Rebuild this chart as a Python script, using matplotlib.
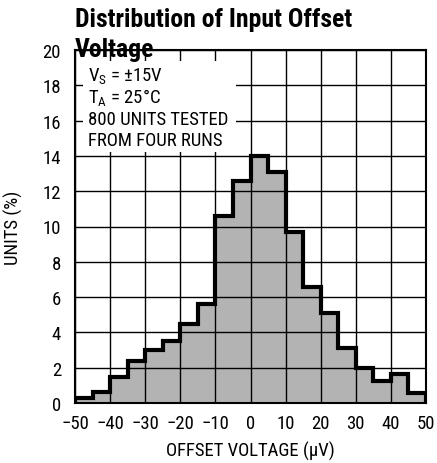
# Distribution of input offset voltage - histogram
import numpy as np
import matplotlib.pyplot as plt
from matplotlib.patches import Rectangle

# data
bin_edges = np.arange(-50, 55, 5)
units_pct = [0.3, 0.6, 1.5, 2.4, 3.0, 3.5, 4.5, 5.6, 10.6, 12.6,
             14.0, 13.1, 9.7, 6.6, 5.1, 3.1, 2.0, 1.25, 1.65, 0.55]
x_ticks = [-50, -40, -30, -20, -10, 0, 10, 20, 30, 40, 50]
x_ticklabels = ['\u221250', '\u221240', '\u221230', '\u221220', '\u221210',
                '0', '10', '20', '30', '40', '50']
y_ticks = [0, 2, 4, 6, 8, 10, 12, 14, 16, 18, 20]
notes = ['V$_\\mathregular{S}$ = \u00b115V', 'T$_\\mathregular{A}$ = 25\u00b0C',
         '800 UNITS TESTED', 'FROM FOUR RUNS']

plt.rcParams['font.family'] = ['Roboto Condensed', 'DejaVu Sans']
plt.rcParams['mathtext.fontset'] = 'custom'
plt.rcParams['mathtext.rm'] = 'Roboto Condensed'

fig = plt.figure(figsize=(4.37, 4.64), dpi=100)
ax = fig.add_axes([75/437, 1-404/464, 351/437, 353/464])

# histogram fill + outline, grid in between
ax.stairs(units_pct, bin_edges, fill=True, color='#b3b3b3', zorder=1)
ax.stairs(units_pct, bin_edges, baseline=0, color='black', linewidth=3, zorder=3)

ax.set_xlim(-50, 50)
ax.set_ylim(0, 20)
ax.set_xticks(x_ticks)
ax.set_xticklabels(x_ticklabels)
ax.set_yticks(y_ticks)
ax.tick_params(length=0, labelsize=13.5, colors='black')
ax.tick_params(axis='x', pad=8)
ax.tick_params(axis='y', pad=10)
ax.set_axisbelow(False)
ax.grid(True, color='black', linewidth=1)
for s in ax.spines.values():
    s.set_linewidth(1.5)
    s.set_zorder(5)

# white note box over the grid
ax.add_patch(Rectangle((0.023, 0.712), 0.437, 0.258, transform=ax.transAxes,
                       facecolor='white', edgecolor='none', zorder=4))
y0 = 0.912
for i, t in enumerate(notes):
    ax.text(0.037, y0 - i * 0.0605, t, transform=ax.transAxes, fontsize=13.5,
            va='baseline', ha='left', zorder=6)

ax.set_xlabel('OFFSET VOLTAGE (\u03bcV)', fontsize=13.5, labelpad=6)
ax.set_ylabel('UNITS (%)', fontsize=13.5, labelpad=14)

fig.text(75/437, 1-8/464, 'Distribution of Input Offset\nVoltage', fontsize=18.5,
         fontweight='bold', va='top', ha='left', linespacing=1.3, zorder=10)

fig.savefig('out.png', dpi=100)
